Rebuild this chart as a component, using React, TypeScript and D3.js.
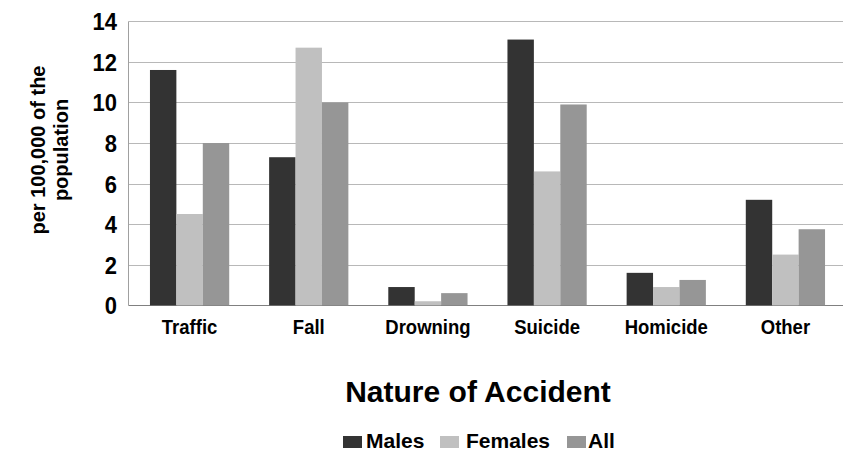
import React from "react";
import * as d3 from "d3";

const categories = ["Traffic", "Fall", "Drowning", "Suicide", "Homicide", "Other"];
const seriesNames = ["Males", "Females", "All"];
const males = [11.6, 7.3, 0.9, 13.1, 1.6, 5.2];
const females = [4.5, 12.7, 0.2, 6.6, 0.9, 2.5];
const all = [8.0, 10.0, 0.6, 9.9, 1.25, 3.75];
const yTicks = [0, 2, 4, 6, 8, 10, 12, 14];
const colors = ["#333333", "#c0c0c0", "#969696"];

const W = 843;
const H = 455;
const FONT = "'Liberation Sans', Arial, sans-serif";

export default function App() {
  const seriesValues = [males, females, all];
  const x = d3.scaleBand<string>().domain(categories).range([130, 845]).paddingInner(0.335).paddingOuter(0.1675);
  const xs = d3.scaleBand<string>().domain(seriesNames).range([0, x.bandwidth()]).padding(0);
  const y = d3.scaleLinear().domain([0, 14]).range([305.3, 21.3]);
  const left = 128.5;
  const right = 843;

  const legendItems = [
    { name: "Males", rx: 343, tx: 366 },
    { name: "Females", rx: 440, tx: 466 },
    { name: "All", rx: 567, tx: 588 },
  ];

  return (
    <svg width={W} height={H} style={{ position: "absolute", left: 0, top: 0, background: "#fff" }} fontFamily={FONT}>
      <rect x={0} y={0} width={W} height={H} fill="#ffffff" />
      {yTicks.map((t) => (
        <line key={"g" + t} x1={left} x2={right} y1={Math.round(y(t)) + 0.5} y2={Math.round(y(t)) + 0.5} stroke={t === 0 ? "#808080" : "#b8b8b8"} strokeWidth={1} />
      ))}
      <line x1={left} x2={left} y1={Math.round(y(14)) + 0.5} y2={Math.round(y(0)) + 0.5} stroke="#a0a0a0" strokeWidth={1} />
      {categories.map((c, i) => (
        <g key={c} transform={`translate(${x(c)},0)`}>
          {seriesNames.map((s, j) => {
            const v = seriesValues[j][i];
            return (
              <rect key={s} x={xs(s)} y={y(v)} width={xs.bandwidth()} height={y(0) - y(v)} fill={colors[j]} />
            );
          })}
        </g>
      ))}
      {yTicks.map((t) => (
        <g key={"t" + t} transform={`translate(117,${y(t) + 9}) scale(1,1.12)`}>
          <text x={0} y={0} textAnchor="end" fontSize={22} fontWeight="bold" fill="#000">
            {t}
          </text>
        </g>
      ))}
      {categories.map((c) => (
        <g key={"l" + c} transform={`translate(${(x(c) as number) + x.bandwidth() / 2},333.5) scale(1,1.1)`}>
          <text x={0} y={0} textAnchor="middle" fontSize={18.5} fontWeight="bold" fill="#000">
            {c}
          </text>
        </g>
      ))}
      <g transform="translate(0,150) rotate(-90)" fontSize={20} fontWeight="bold" fill="#000">
        <text x={0} y={45} textAnchor="middle">per 100,000 of the</text>
        <text x={0} y={68} textAnchor="middle">population</text>
      </g>
      <text x={478} y={402} textAnchor="middle" fontSize={30} fontWeight="bold" fill="#000">
        Nature of Accident
      </text>
      {legendItems.map((it, i) => (
        <g key={it.name}>
          <rect x={it.rx} y={436} width={19} height={12} fill={colors[i]} />
          <text x={it.tx} y={448} fontSize={21} fontWeight="bold" fill="#000">
            {it.name}
          </text>
        </g>
      ))}
    </svg>
  );
}
